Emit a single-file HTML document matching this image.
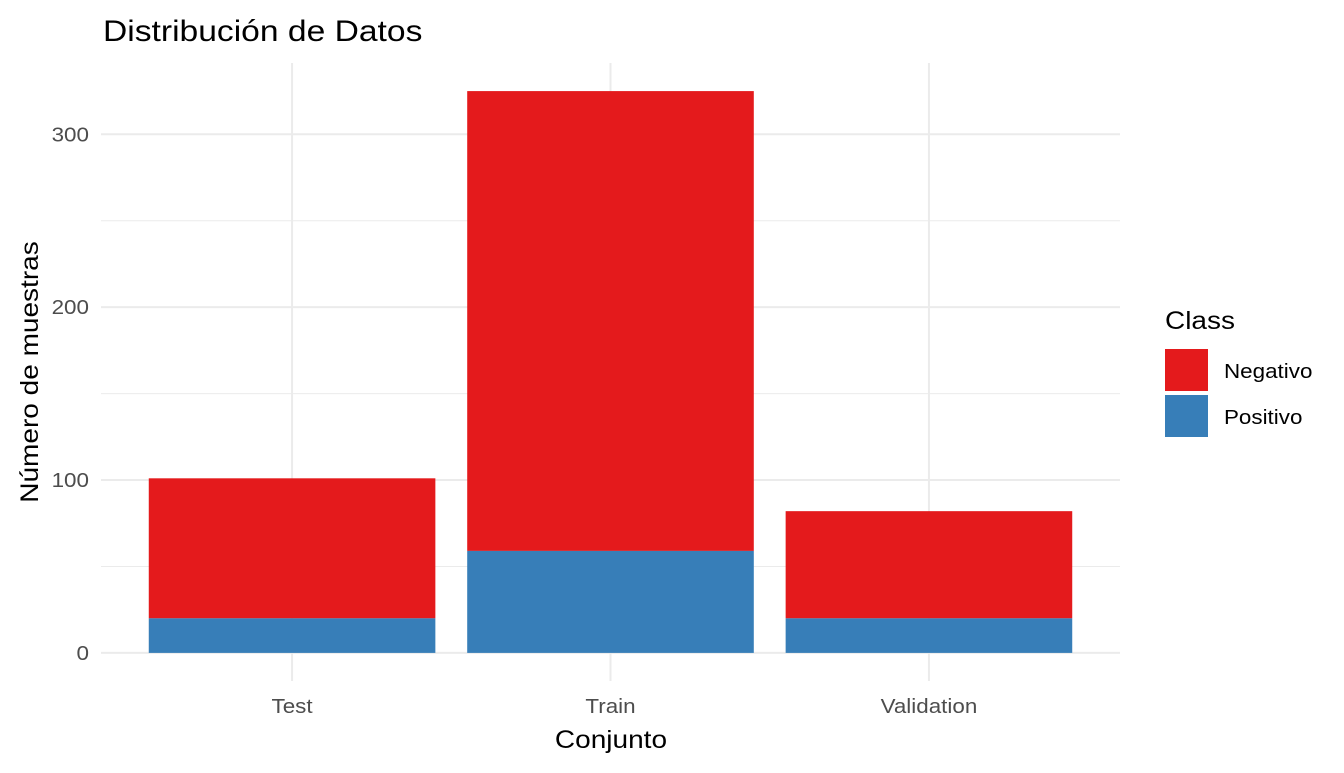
<!DOCTYPE html>
<html><head><meta charset="utf-8"><style>
body{margin:0;background:#fff;}
svg text{font-family:"Liberation Sans",Arial,sans-serif;}
</style></head><body>
<svg id="chart" width="1344" height="768" xmlns="http://www.w3.org/2000/svg">
<text class="wide" x="103" y="41" font-size="30" fill="#000">Distribución de Datos</text>
<g id="grid"></g>
<g id="bars"></g>
<g id="axes"></g>
<text class="wide" x="611" y="748" font-size="25" text-anchor="middle" fill="#000">Conjunto</text>
<text class="wide" transform="translate(38,372) rotate(-90)" font-size="25" text-anchor="middle" fill="#000">Número de muestras</text>
<g>
<text class="wide" x="1165" y="329" font-size="25" fill="#000">Class</text>
<rect x="1165" y="349" width="43" height="42" fill="#E41A1C"/>
<text class="wide" x="1224" y="378" font-size="20" fill="#000">Negativo</text>
<rect x="1165" y="395" width="43" height="42" fill="#377EB8"/>
<text class="wide" x="1224" y="424" font-size="20" fill="#000">Positivo</text>
</g>
</svg>
<script>
const categories = ["Test", "Train", "Validation"];
const positivo = [20, 59, 20];
const negativo = [81, 266, 62];
const yTicks = [0, 100, 200, 300];
const yMinor = [50, 150, 250];

const NS = "http://www.w3.org/2000/svg";
const px0 = 101, px1 = 1120, py0 = 681, py1 = 63;
const ymin = -16.25, ymax = 341.25;
function y(v){ return py0 - (v - ymin) / (ymax - ymin) * (py0 - py1); }
const step = (px1 - px0) / (categories.length - 1 + 1.2);
function x(i){ return px0 + step * 0.6 + i * step; }
function mk(tag, attrs, parent){ const e=document.createElementNS(NS,tag); for(const k in attrs) e.setAttribute(k,attrs[k]); parent.appendChild(e); return e; }
const grid=document.getElementById('grid'), bars=document.getElementById('bars'), axes=document.getElementById('axes');
yMinor.forEach(v=>{
  const l=mk('line',{x1:px0,x2:px1,y1:y(v),y2:y(v),stroke:'#ebebeb','stroke-width':1},grid);
  
  
});
yTicks.forEach(v=>{
  const l=mk('line',{x1:px0,x2:px1,y1:y(v),y2:y(v),stroke:'#ebebeb','stroke-width':2},grid);
  
  
  const t=mk('text',{x:89,y:y(v)+7,'font-size':20,'text-anchor':'end',fill:'#4d4d4d',class:'wide'},axes);
  t.textContent=v;
  
  
});
categories.forEach((c,i)=>{
  const l=mk('line',{x1:x(i),x2:x(i),y1:py1,y2:py0,stroke:'#ebebeb','stroke-width':2},grid);
  
  
  const w=step*0.9;
  const tot=positivo[i]+negativo[i];
  const rn=mk('rect',{x:x(i)-w/2,y:y(tot),width:w,height:y(positivo[i])-y(tot),fill:'#E41A1C'},bars);
  
  
  const rp=mk('rect',{x:x(i)-w/2,y:y(positivo[i]),width:w,height:y(0)-y(positivo[i]),fill:'#377EB8'},bars);
  
  
  const t=mk('text',{x:x(i),y:713,'font-size':20,'text-anchor':'middle',fill:'#4d4d4d',class:'wide'},axes);
  t.textContent=c;
  
  
});
document.querySelectorAll('text.wide').forEach(t=>{
  const L=t.getComputedTextLength();
  t.setAttribute('textLength', (L*1.12).toFixed(1));
  t.setAttribute('lengthAdjust','spacingAndGlyphs');
});
</script>
</body></html>
